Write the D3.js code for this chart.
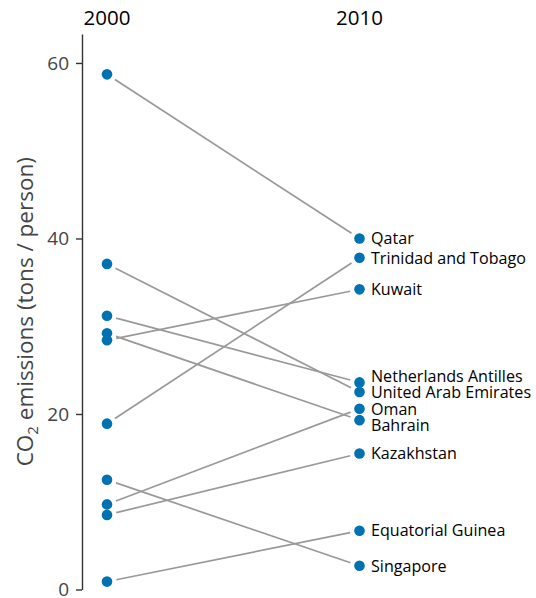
<!DOCTYPE html>
<html><head><meta charset="utf-8">
<script src="https://cdn.jsdelivr.net/npm/d3@7"></script>
<style>body{margin:0;background:#fff}svg{display:block}</style>
</head><body><svg id="c" width="536" height="598"></svg>
<script>
const years = ["2000", "2010"];
const countries = ["Qatar", "Trinidad and Tobago", "Kuwait", "Netherlands Antilles", "United Arab Emirates", "Oman", "Bahrain", "Kazakhstan", "Equatorial Guinea", "Singapore"];
const values2000 = [58.7, 18.9, 28.4, 31.2, 37.1, 9.7, 29.2, 8.5, 0.9, 12.5];
const values2010 = [40.0, 37.8, 34.2, 23.6, 22.5, 20.6, 19.3, 15.5, 6.7, 2.7];
const yTicks = [0, 20, 40, 60];
const yTitle = ["CO", "2", " emissions (tons / person)"];

const FONT = "'Open Sans', 'Noto Sans', sans-serif";
const svg = d3.select("#c");
const x = d3.scalePoint().domain(years).range([107, 359.5]);
const y = d3.scaleLinear().domain([0, 63.3]).range([589.5, 34]);

const data = countries.map((c, i) => ({ name: c, v0: values2000[i], v1: values2010[i] }));

// axis
const ax = svg.append("g").attr("transform", "translate(82,0)")
  .call(d3.axisLeft(y).tickValues(yTicks).tickSize(6).tickSizeOuter(0).tickPadding(7));
ax.select(".domain").attr("stroke", "#333").attr("stroke-width", 1.4);
ax.selectAll(".tick line").attr("stroke", "#333").attr("stroke-width", 1.4);
ax.selectAll(".tick text").attr("fill", "#444").style("font-family", FONT).style("font-size", "19px");

// axis title
const t = svg.append("text")
  .attr("transform", `translate(33,${(y.range()[0] + y.range()[1]) / 2}) rotate(-90)`)
  .attr("text-anchor", "middle")
  .attr("fill", "#444")
  .style("font-family", FONT).style("font-size", "22.5px");
t.append("tspan").text(yTitle[0]);
t.append("tspan").attr("dy", 5).style("font-size", "15px").text(yTitle[1]);
t.append("tspan").attr("dy", -5).text(yTitle[2]);

// year headers
svg.selectAll("text.year").data(years).join("text")
  .attr("class", "year")
  .attr("x", d => x(d)).attr("y", 25)
  .attr("text-anchor", "middle")
  .attr("fill", "#000")
  .style("font-family", FONT).style("font-size", "20.5px")
  .text(d => d);

// connecting lines with gaps near points
const gap = 9.5;
svg.append("g").selectAll("line").data(data).join("line")
  .each(function (d) {
    const x0 = x(years[0]), y0 = y(d.v0), x1 = x(years[1]), y1 = y(d.v1);
    const len = Math.hypot(x1 - x0, y1 - y0);
    const ux = (x1 - x0) / len, uy = (y1 - y0) / len;
    d3.select(this)
      .attr("x1", x0 + ux * gap).attr("y1", y0 + uy * gap)
      .attr("x2", x1 - ux * gap).attr("y2", y1 - uy * gap);
  })
  .attr("stroke", "#999").attr("stroke-width", 1.7);

// points
const pts = svg.append("g");
pts.selectAll("circle.p0").data(data).join("circle").attr("class", "p0")
  .attr("cx", x(years[0])).attr("cy", d => y(d.v0)).attr("r", 5.3).attr("fill", "#0072B2");
pts.selectAll("circle.p1").data(data).join("circle").attr("class", "p1")
  .attr("cx", x(years[1])).attr("cy", d => y(d.v1)).attr("r", 5.3).attr("fill", "#0072B2");

// label repel: cluster overlapping labels and space them evenly
const minSep = 16.4;
const items = data.map(d => ({ d, target: y(d.v1) })).sort((a, b) => a.target - b.target);
let clusters = items.map(it => ({ members: [it], center: it.target }));
let changed = true;
while (changed) {
  changed = false;
  for (let i = 0; i < clusters.length - 1; i++) {
    const a = clusters[i], b = clusters[i + 1];
    const aBottom = a.center + (a.members.length - 1) * minSep / 2;
    const bTop = b.center - (b.members.length - 1) * minSep / 2;
    if (bTop - aBottom < minSep) {
      const members = a.members.concat(b.members);
      const center = d3.mean(members, m => m.target);
      clusters.splice(i, 2, { members, center });
      changed = true;
      break;
    }
  }
}
clusters.forEach(c => {
  c.members.forEach((m, k) => { m.pos = c.center + (k - (c.members.length - 1) / 2) * minSep; });
});

svg.append("g").selectAll("text").data(items).join("text")
  .attr("x", x(years[1]) + 11.5)
  .attr("y", m => m.pos)
  .attr("dy", "0.36em")
  .attr("fill", "#000")
  .style("font-family", FONT).style("font-size", "16.1px")
  .text(m => m.d.name);
</script>
</body></html>
